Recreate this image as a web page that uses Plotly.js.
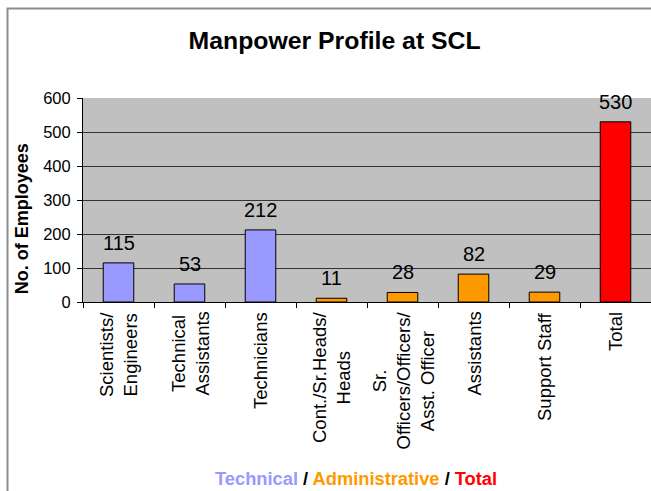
<!DOCTYPE html>
<html>
<head>
<meta charset="utf-8">
<script src="https://cdn.plot.ly/plotly-3.0.1.min.js"></script>
<style>
  html, body { margin: 0; padding: 0; background: #ffffff; }
  #chart { width: 651px; height: 491px; }
</style>
</head>
<body>
<div id="chart"></div>
<script>
// ---- data ----
const categories = [
  "Scientists/<br>Engineers",
  "Technical<br>Assistants",
  "Technicians",
  "Cont./Sr.Heads/<br>Heads",
  "Sr.<br>Officers/Officers/<br>Asst. Officer",
  "Assistants",
  "Support Staff",
  "Total"
];
const employees = [115, 53, 212, 11, 28, 82, 29, 530];
const groups = ["Technical", "Technical", "Technical", "Administrative", "Administrative", "Administrative", "Administrative", "Total"];
const groupNames = ["Technical", "Administrative", "Total"];
const yTicks = [0, 100, 200, 300, 400, 500, 600];

// ---- styling ----
const groupColors = { "Technical": "#9999FF", "Administrative": "#FF9900", "Total": "#FF0000" };
const FONT = "Liberation Sans, Arial, Helvetica, sans-serif";

const trace = {
  type: "bar",
  x: categories,
  y: employees,
  marker: {
    color: groups.map(g => groupColors[g]),
    line: { color: "#000000", width: 1 }
  },
  hoverinfo: "x+y",
  showlegend: false
};

const annotations = [];
// value labels
categories.forEach((c, i) => {
  annotations.push({
    x: c, y: employees[i], xref: "x", yref: "y",
    text: String(employees[i]), showarrow: false,
    xanchor: "center", yanchor: "bottom", yshift: 7,
    font: { family: FONT, size: 20, color: "#000000" }
  });
});
// category labels (rotated, centered lines)
categories.forEach((c) => {
  annotations.push({
    x: c, y: 0, xref: "x", yref: "y",
    text: c, showarrow: false, textangle: -90, align: "center",
    xanchor: "center", yanchor: "top", yshift: -8,
    font: { family: FONT, size: 18.5, color: "#000000" }
  });
});
// y axis title
annotations.push({
  xref: "paper", yref: "paper", x: -0.107, y: 0.407,
  text: "No. of Employees", showarrow: false, textangle: -90,
  xanchor: "center", yanchor: "middle",
  font: { family: FONT, size: 18, color: "#000000", weight: "bold" }
});
// bottom legend text
const legendHtml = groupNames.map(g =>
  `<span style="color:${groupColors[g]}">${g}</span>`).join(" / ");
annotations.push({
  xref: "paper", yref: "paper", x: 0.4806, y: -0.863,
  text: "<b>" + legendHtml + "</b>", showarrow: false,
  xanchor: "center", yanchor: "middle",
  font: { family: FONT, size: 18.3, color: "#000000" }
});

const layout = {
  width: 651, height: 491,
  margin: { l: 83, r: 0, t: 98, b: 189, pad: 0 },
  paper_bgcolor: "#ffffff",
  plot_bgcolor: "#C0C0C0",
  font: { family: FONT, color: "#000000" },
  title: {
    text: "<b>Manpower Profile at SCL</b>",
    x: 0.514, xref: "container", xanchor: "center",
    y: 0.9185, yref: "container", yanchor: "middle",
    font: { family: FONT, size: 24.8, color: "#000000" }
  },
  bargap: 0.57,
  xaxis: {
    type: "category",
    showticklabels: false,
    ticks: "outside", tickson: "boundaries", ticklen: 5, tickcolor: "#000000",
    showline: true, linecolor: "#000000", linewidth: 1,
    showgrid: false, zeroline: false, fixedrange: true
  },
  yaxis: {
    range: [0, 600], tickvals: yTicks, ticktext: yTicks.map(String),
    ticks: "outside", ticklen: 5, tickcolor: "#000000",
    ticklabelstandoff: 3,
    showline: true, linecolor: "#000000", linewidth: 1,
    showgrid: true, gridcolor: "#333333", gridwidth: 1,
    zeroline: false, fixedrange: true,
    tickfont: { family: FONT, size: 16.5, color: "#000000" }
  },
  shapes: [{
    type: "rect", xref: "paper", yref: "paper",
    x0: -0.1329, x1: 1.5, y0: -2, y1: 1.4387,
    line: { color: "#8c8c8c", width: 2 }, fillcolor: "rgba(0,0,0,0)", layer: "above"
  }],
  annotations: annotations
};

Plotly.newPlot("chart", [trace], layout, { displayModeBar: false, staticPlot: true });
</script>
</body>
</html>
